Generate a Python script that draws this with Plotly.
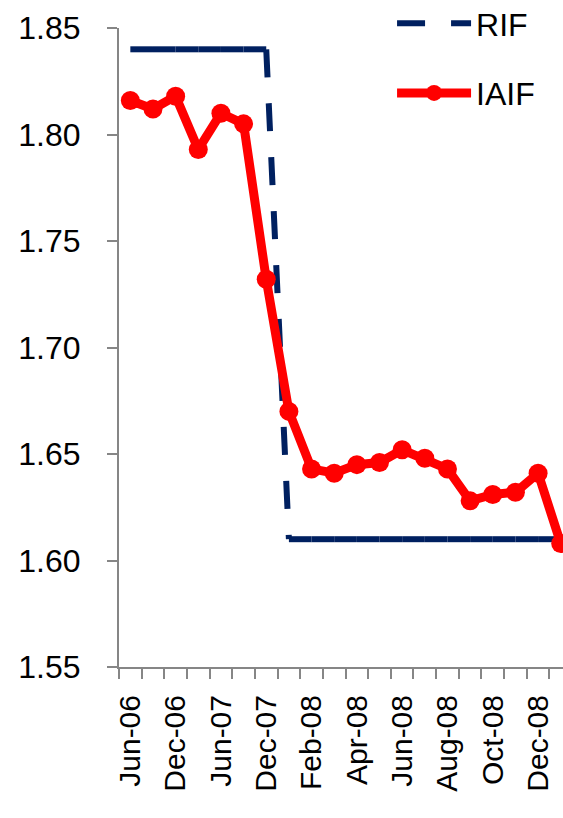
import plotly.graph_objects as go

categories = ["Jun-06", "Sep-06", "Dec-06", "Mar-07", "Jun-07", "Sep-07", "Dec-07",
              "Jan-08", "Feb-08", "Mar-08", "Apr-08", "May-08", "Jun-08", "Jul-08",
              "Aug-08", "Sep-08", "Oct-08", "Nov-08", "Dec-08", "Jan-09"]
tick_labels = ["Jun-06", "", "Dec-06", "", "Jun-07", "", "Dec-07", "", "Feb-08", "",
               "Apr-08", "", "Jun-08", "", "Aug-08", "", "Oct-08", "", "Dec-08", ""]
rif = [1.84, 1.84, 1.84, 1.84, 1.84, 1.84, 1.84,
       1.61, 1.61, 1.61, 1.61, 1.61, 1.61, 1.61, 1.61, 1.61, 1.61, 1.61, 1.61, 1.61]
iaif = [1.816, 1.812, 1.818, 1.793, 1.810, 1.805, 1.732, 1.670, 1.643, 1.641,
        1.645, 1.646, 1.652, 1.648, 1.643, 1.628, 1.631, 1.632, 1.641, 1.608]

# RIF drawn segment by segment so the dash pattern restarts at every point (as in Excel)
rif_x, rif_y = [], []
for i in range(len(categories) - 1):
    rif_x += [categories[i], categories[i + 1], None]
    rif_y += [rif[i], rif[i + 1], None]

FONT = "Liberation Sans, Arial, sans-serif"
NAVY = "#002060"
RED = "#FF0000"
AXIS = "#868686"

fig = go.Figure()
fig.add_trace(go.Scatter(
    x=rif_x, y=rif_y, name="RIF", mode="lines", connectgaps=False,
    line=dict(color=NAVY, width=6, dash="28px,26px"),
    legendgroup="a", hoverinfo="skip",
))
fig.add_trace(go.Scatter(
    x=categories, y=iaif, name="IAIF", mode="lines+markers",
    line=dict(color=RED, width=9),
    marker=dict(color=RED, size=19),
    legendgroup="b",
))

fig.update_layout(
    width=563, height=818,
    margin=dict(l=119, r=0, t=28, b=151, autoexpand=False),
    paper_bgcolor="white", plot_bgcolor="white",
    font=dict(family=FONT, size=30, color="black"),
    showlegend=True,
    legend=dict(
        x=0.615, y=1.05, xanchor="left", yanchor="top",
        bgcolor="rgba(0,0,0,0)", font=dict(size=32, family=FONT),
        traceorder="grouped", tracegroupgap=25, itemwidth=74,
    ),
    xaxis=dict(
        type="category", categoryorder="array", categoryarray=categories,
        range=[-0.5, 19.1], automargin=False,
        tickmode="array", tickvals=categories, ticktext=tick_labels,
        tickson="boundaries", ticks="outside", ticklen=10, tickwidth=2, tickcolor=AXIS,
        tickangle=-90, showline=True, linecolor=AXIS, linewidth=2,
        showgrid=False, zeroline=False, ticklabelstandoff=14,
        tickfont=dict(size=30, family=FONT, color="black"),
    ),
    yaxis=dict(
        range=[1.55, 1.85], dtick=0.05, tickformat=".2f", automargin=False,
        ticks="outside", ticklen=10, tickwidth=2, tickcolor=AXIS,
        showline=True, linecolor=AXIS, linewidth=2,
        showgrid=False, zeroline=False, ticklabelstandoff=20,
        tickfont=dict(size=32, family=FONT, color="black"),
    ),
)

fig.write_html("out.html", config={"displayModeBar": False},
               post_script="document.body.style.margin='0';")
